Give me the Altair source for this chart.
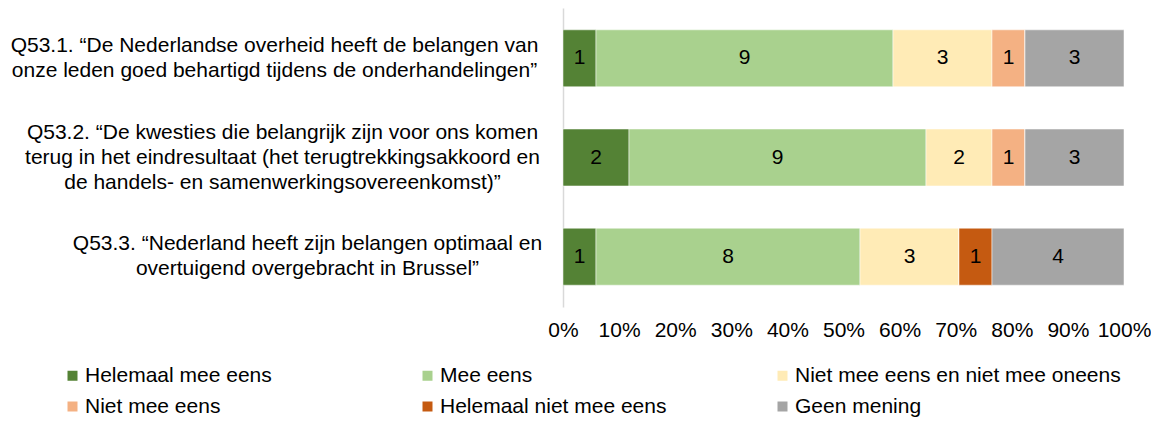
import altair as alt
import pandas as pd

questions = [
    "Q53.1. “De Nederlandse overheid heeft de belangen van|onze leden goed behartigd tijdens de onderhandelingen”",
    "Q53.2. “De kwesties die belangrijk zijn voor ons komen|terug in het eindresultaat (het terugtrekkingsakkoord en|de handels- en samenwerkingsovereenkomst)”",
    "Q53.3. “Nederland heeft zijn belangen optimaal en|overtuigend overgebracht in Brussel”",
]
answers = [
    "Helemaal mee eens",
    "Mee eens",
    "Niet mee eens en niet mee oneens",
    "Niet mee eens",
    "Helemaal niet mee eens",
    "Geen mening",
]
colors = ["#548235", "#A9D18E", "#FFEBB6", "#F4B183", "#C55A11", "#A5A5A5"]

helemaal_mee_eens = [1, 2, 1]
mee_eens = [9, 9, 8]
neutraal = [3, 2, 3]
niet_mee_eens = [1, 1, 0]
helemaal_niet_mee_eens = [0, 0, 1]
geen_mening = [3, 3, 4]

series = [helemaal_mee_eens, mee_eens, neutraal, niet_mee_eens,
          helemaal_niet_mee_eens, geen_mening]

rows = []
for ai, (ans, vals) in enumerate(zip(answers, series)):
    for q, v in zip(questions, vals):
        rows.append({"q": q, "answer": ans, "order": ai, "count": v})
df = pd.DataFrame(rows)

FONT = "Liberation Sans"
FS = 21
LH = 25

base = alt.Chart(df).transform_stack(
    stack="count",
    groupby=["q"],
    as_=["x0", "x1"],
    offset="normalize",
    sort=[alt.SortField("order", order="ascending")],
).transform_calculate(mid="(datum.x0 + datum.x1) / 2")

y_enc = alt.Y(
    "q:N",
    sort=questions,
    title=None,
    scale=alt.Scale(paddingInner=0.426, paddingOuter=0.22),
    axis=alt.Axis(
        labelExpr="split(datum.label, '|')",
        labelAlign="center",
        labelBaseline="middle",
        labelFont=FONT,
        labelFontSize=FS,
        labelColor="#000000",
        labelLimit=700,
        labelLineHeight=LH,
        labelPadding={
            "condition": [
                {"test": "indexof(datum.value, 'Q53.1') >= 0", "value": 289},
                {"test": "indexof(datum.value, 'Q53.2') >= 0", "value": 281},
            ],
            "value": 256,
        },
        labelOffset={
            "condition": [
                {"test": "indexof(datum.value, 'Q53.2') >= 0", "value": -LH},
            ],
            "value": -LH / 2,
        },
        ticks=False,
        domainColor="#D9D9D9",
        domainWidth=1.5,
    ),
)

bars = base.mark_bar(stroke="white", strokeWidth=0.5).encode(
    y=y_enc,
    x=alt.X(
        "x0:Q",
        title=None,
        scale=alt.Scale(domain=[0, 1], nice=False),
        axis=alt.Axis(
            format="%",
            values=[i / 10 for i in range(11)],
            labelFont=FONT,
            labelFontSize=FS,
            labelColor="#000000",
            labelPadding=12,
            labelOverlap=False,
            labelFlush=False,
            domain=False,
            ticks=False,
            grid=False,
        ),
    ),
    x2="x1:Q",
    color=alt.Color(
        "answer:N",
        scale=alt.Scale(domain=answers, range=colors),
        sort=answers,
        legend=alt.Legend(
            title=None,
            orient="none",
            legendX=-501,
            legendY=357,
            direction="horizontal",
            columns=3,
            gridAlign="all",
            columnPadding=6,
            rowPadding=9,
            symbolType="square",
            symbolSize=100,
            symbolStrokeWidth=0,
            labelOffset=2,
            labelFont=FONT,
            labelFontSize=FS,
            labelColor="#000000",
            labelLimit=500,
        ),
    ),
    order=alt.Order("order:Q"),
)

labels = base.transform_filter("datum.count > 0").mark_text(
    font=FONT, fontSize=FS, color="#000000", baseline="middle", align="center"
).encode(
    y=alt.Y("q:N", sort=questions),
    x=alt.X("mid:Q"),
    text=alt.Text("count:Q"),
)

chart = alt.layer(bars, labels).properties(
    width=561,
    height=299,
    autosize=alt.AutoSizeParams(type="none"),
    padding={"left": 555, "top": 0, "right": 27, "bottom": 111},
).configure(background="white", view=alt.ViewConfig(stroke=None))

chart.save("out.html", embed_options={"renderer": "svg", "actions": False})
